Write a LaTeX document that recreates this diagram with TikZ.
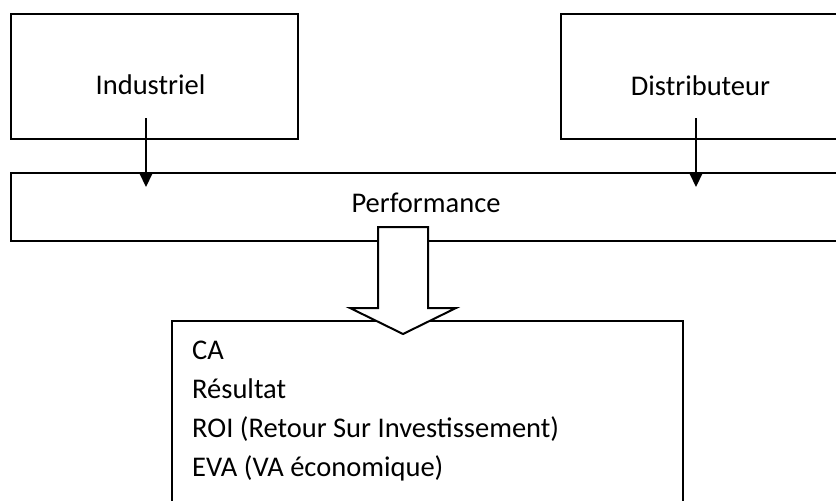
\documentclass[tikz,border=0pt]{standalone}
\usepackage{fontspec}
\setmainfont{Carlito}
\usetikzlibrary{arrows.meta}

\begin{document}
\begin{tikzpicture}[x=1pt, y=-1pt,
    every node/.style={font=\fontsize{28.5}{34}\selectfont, inner sep=0pt},
    box/.style={draw, line width=2pt, fill=white},
    arr/.style={draw, line width=2pt, -{Triangle[length=15pt, width=14pt]}},
    fat/.style={draw, line width=2pt, fill=white, line join=miter}
    ]
    \useasboundingbox (0,0) rectangle (836,501);
    \clip (0,0) rectangle (836,501);

    % Top boxes
    \node[box, minimum width=287pt, minimum height=125pt] (indbox) at (154.5,76.5) {};
    \node[anchor=base] (ind) at (150.5,94) {Industriel};
    \node[box, minimum width=287pt, minimum height=125pt] (disbox) at (704.5,76.5) {};
    \node[anchor=base] (dis) at (700.5,95) {Distributeur};

    % Performance box
    \node[box, minimum width=849pt, minimum height=68pt] (perfbox) at (435.5,207) {};
    \node[anchor=base] (perf) at (426,212) {Performance};

    % Arrows into performance
    \coordinate (indA) at (146,118);
    \coordinate (indB) at (146,187);
    \coordinate (disA) at (696,118);
    \coordinate (disB) at (696,187);
    \draw[arr] (indA) -- (indB);
    \draw[arr] (disA) -- (disB);

    % Bottom box
    \node[box, minimum width=511pt, minimum height=200pt] (resbox) at (427.5,421) {};
    \node[anchor=base west] (ca) at (192,359) {CA};
    \node[anchor=base west] (res) at (192,398) {Résultat};
    \node[anchor=base west] (roi) at (192,437) {ROI (Retour Sur Investissement)};
    \node[anchor=base west] (eva) at (192,476) {EVA (VA économique)};

    % Hollow arrow
    \draw[fat] (378,227) -- (428,227) -- (428,308) -- (456,308) -- (403,334)
        -- (350,308) -- (378,308) -- cycle;
\end{tikzpicture}
\end{document}
